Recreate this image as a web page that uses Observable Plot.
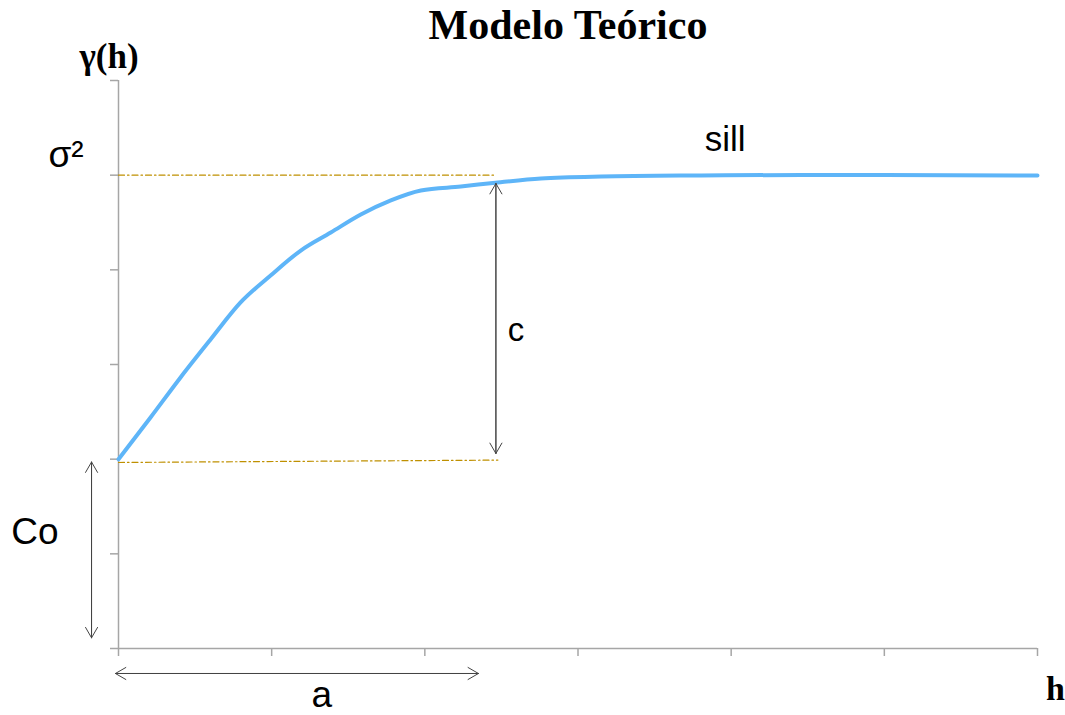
<!DOCTYPE html>
<html>
<head>
<meta charset="utf-8">
<script src="https://cdn.jsdelivr.net/npm/d3@7"></script>
<script src="https://cdn.jsdelivr.net/npm/@observablehq/plot@0.6"></script>
<style>
  html, body { margin: 0; padding: 0; background: #fff; }
  #title {
    height: 36px; line-height: 50px; font-family: "Liberation Serif", "Times New Roman", serif; overflow: visible;
    font-weight: bold; font-size: 42px; text-align: center; padding-left: 71px; box-sizing: border-box; width: 1065px; color: #000;
    position: relative; z-index: 1;
  }
  #chart svg { overflow: visible; }
</style>
</head>
<body>
<div id="title">Modelo Teórico</div>
<div id="chart"></div>
<script>
// Ticks
const xTicks = [0, 1, 2, 3, 4, 5, 6];
const yTicks = [0, 1, 2, 3, 4, 5, 6];

// Theoretical variogram curve
const lagH = [0, 0.209, 0.405, 0.601, 0.797, 0.993, 1.19, 1.386, 1.582, 1.778, 1.974, 2.235, 2.477, 2.758, 3.15, 3.804, 4.458, 6.0];
const gammaH = [2.0, 2.44, 2.863, 3.264, 3.655, 3.94, 4.204, 4.394, 4.584, 4.733, 4.838, 4.88, 4.923, 4.965, 4.986, 4.997, 5.002, 4.997];

// Reference dash-dot lines (sill and nugget)
const sillLineX = [0, 2.464];
const sillLineY = [5.0, 5.0];
const nuggetLineX = [0, 2.477];
const nuggetLineY = [1.965, 1.99];

// Double-headed arrows: c, Co, a
const arrowNames = ["c", "Co", "a"];
const arrowXA = [2.464, -0.176, -0.02];
const arrowYA = [2.06, 0.113, -0.264];
const arrowXB = [2.464, -0.176, 2.35];
const arrowYB = [4.912, 1.97, -0.264];

// Annotation labels (sans)
const labelText = ["σ²", "sill", "c", "Co", "a"];
const labelX = [-0.343, 3.961, 2.595, -0.546, 1.327];
const labelY = [5.081, 5.26, 3.243, 1.109, -0.613];
const labelSize = [37, 35, 33, 37, 37];

// Axis labels (bold serif)
const axisText = ["γ(h)", "h"];
const axisX = [-0.062, 6.118];
const axisY = [6.137, -0.549];
const axisSize = [35, 34];

const curve = lagH.map((h, i) => ({h, g: gammaH[i]}));
const sillLine = sillLineX.map((x, i) => ({x, y: sillLineY[i]}));
const nuggetLine = nuggetLineX.map((x, i) => ({x, y: nuggetLineY[i]}));
const arrows = [];
arrowNames.forEach((n, i) => {
  arrows.push({x1: arrowXA[i], y1: arrowYA[i], x2: arrowXB[i], y2: arrowYB[i]});
  arrows.push({x1: arrowXB[i], y1: arrowYB[i], x2: arrowXA[i], y2: arrowYA[i]});
});
const labels = labelText.map((t, i) => ({t, x: labelX[i], y: labelY[i], s: labelSize[i]}));
const axisLabels = axisText.map((t, i) => ({t, x: axisX[i], y: axisY[i], s: axisSize[i]}));

const axisColor = "#a6a6a6";
const dashColor = "#bf9000";

const chart = Plot.plot({
  width: 1065,
  height: 679,
  marginTop: 44,
  marginBottom: 67,
  marginLeft: 118,
  marginRight: 28,
  x: {domain: [0, 6]},
  y: {domain: [0, 6]},
  style: {background: "transparent", color: "#000", overflow: "visible"},
  marks: [
    Plot.axisX({ticks: xTicks, tickSize: 8, tickFormat: () => "", label: null, stroke: axisColor, strokeWidth: 1.5}),
    Plot.axisY({ticks: yTicks, tickSize: 8, tickFormat: () => "", label: null, stroke: axisColor, strokeWidth: 1.5}),
    Plot.ruleY([0], {stroke: axisColor, strokeWidth: 1.5}),
    Plot.ruleX([0], {stroke: axisColor, strokeWidth: 1.5}),
    Plot.line(sillLine, {x: "x", y: "y", stroke: dashColor, strokeWidth: 1.2, strokeDasharray: "6,3,1.5,3"}),
    Plot.line(nuggetLine, {x: "x", y: "y", stroke: dashColor, strokeWidth: 1.2, strokeDasharray: "6,3,1.5,3"}),
    Plot.line(curve, {x: "h", y: "g", stroke: "#5eb5f8", strokeWidth: 4, curve: "monotone-x"}),
    Plot.arrow(arrows, {x1: "x1", y1: "y1", x2: "x2", y2: "y2", stroke: "#444", strokeWidth: 1, headLength: 18, headAngle: 60}),
    Plot.text(labels, {x: "x", y: "y", text: "t", fontSize: "s", lineAnchor: "bottom", fill: "#000", fontFamily: "Liberation Sans, Arial, sans-serif"}),
    Plot.text(axisLabels, {x: "x", y: "y", text: "t", fontSize: "s", lineAnchor: "bottom", fill: "#000", fontWeight: "bold", fontFamily: "Liberation Serif, Times New Roman, serif"})
  ]
});
document.getElementById("chart").appendChild(chart);
</script>
</body>
</html>
